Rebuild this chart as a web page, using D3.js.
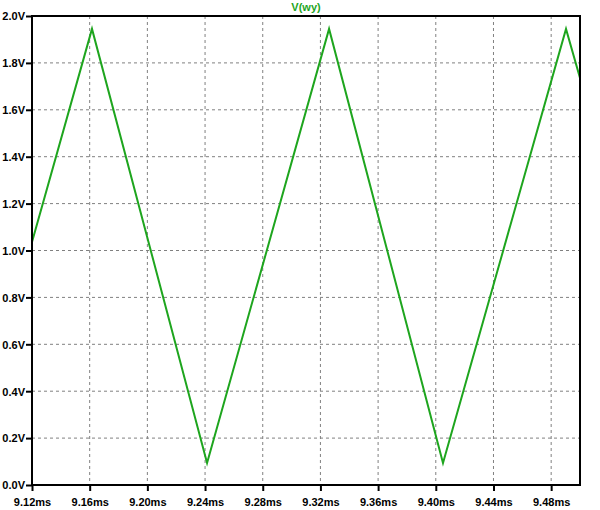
<!DOCTYPE html>
<html>
<head>
<meta charset="utf-8">
<script src="https://cdn.jsdelivr.net/npm/d3@7"></script>
<style>
  body { margin: 0; background: #fff; }
  text { font-family: "Liberation Sans", Arial, sans-serif; font-weight: bold; font-size: 11px; }
</style>
</head>
<body>
<script>
// waveform V(wy), time in ms, voltage in V
var times = [9.12, 9.1616, 9.2414, 9.3260, 9.4050, 9.4903, 9.50];
var volts = [1.036, 1.945, 0.094, 1.945, 0.094, 1.945, 1.736];

var xTicks = [9.12, 9.16, 9.20, 9.24, 9.28, 9.32, 9.36, 9.40, 9.44, 9.48];
var yTicks = [0.0, 0.2, 0.4, 0.6, 0.8, 1.0, 1.2, 1.4, 1.6, 1.8, 2.0];

var traceName = "V(wy)";
var traceColor = "#1ea51e";

var margin = {top: 16, right: 20, bottom: 25, left: 32};
var width = 600, height = 510;
var plotW = width - margin.left - margin.right;
var plotH = height - margin.top - margin.bottom;

var svg = d3.select("body").append("svg")
    .attr("width", width)
    .attr("height", height);

var g = svg.append("g")
    .attr("transform", "translate(" + margin.left + "," + margin.top + ")");

var x = d3.scaleLinear().domain([9.12, 9.50]).range([0, plotW]);
var y = d3.scaleLinear().domain([0, 2.0]).range([plotH, 0]);

// grid
g.selectAll(".vgrid")
    .data(xTicks.slice(1))
    .enter().append("line")
    .attr("x1", function(d) { return x(d); })
    .attr("x2", function(d) { return x(d); })
    .attr("y1", 0).attr("y2", plotH)
    .attr("stroke", "#808080")
    .attr("stroke-dasharray", "3,3");

g.selectAll(".hgrid")
    .data(yTicks.slice(1, -1))
    .enter().append("line")
    .attr("x1", 0).attr("x2", plotW)
    .attr("y1", function(d) { return y(d); })
    .attr("y2", function(d) { return y(d); })
    .attr("stroke", "#808080")
    .attr("stroke-dasharray", "3,3");

// trace
var line = d3.line()
    .x(function(d, i) { return x(times[i]); })
    .y(function(d) { return y(d); });

g.append("path")
    .datum(volts)
    .attr("fill", "none")
    .attr("stroke", traceColor)
    .attr("stroke-width", 2)
    .attr("d", line);

// axes
var xAxis = d3.axisBottom(x)
    .tickValues(xTicks)
    .tickSize(6)
    .tickFormat(function(d) { return d3.format(".2f")(d) + "ms"; });

var yAxis = d3.axisLeft(y)
    .tickValues(yTicks)
    .tickSize(6)
    .tickPadding(1)
    .tickFormat(function(d) { return d3.format(".1f")(d) + "V"; });

var gx = g.append("g")
    .attr("transform", "translate(0," + plotH + ")")
    .call(xAxis);
var gy = g.append("g").call(yAxis);

[gx, gy].forEach(function(a) {
    a.select(".domain").remove();
    a.selectAll("line").attr("stroke", "#000").attr("stroke-width", 2);
    a.selectAll("text").attr("fill", "#000")
        .style("font-size", "11px").style("font-weight", "bold");
});
gx.selectAll("text").attr("dy", "1.1em");
gy.selectAll("text").attr("dy", "0.35em");

// frame
g.append("rect")
    .attr("x", 0).attr("y", 0)
    .attr("width", plotW).attr("height", plotH)
    .attr("fill", "none")
    .attr("stroke", "#000")
    .attr("stroke-width", 2);

// title
svg.append("text")
    .attr("x", margin.left + plotW / 2)
    .attr("y", 11)
    .attr("text-anchor", "middle")
    .attr("fill", traceColor)
    .text(traceName);
</script>
</body>
</html>
